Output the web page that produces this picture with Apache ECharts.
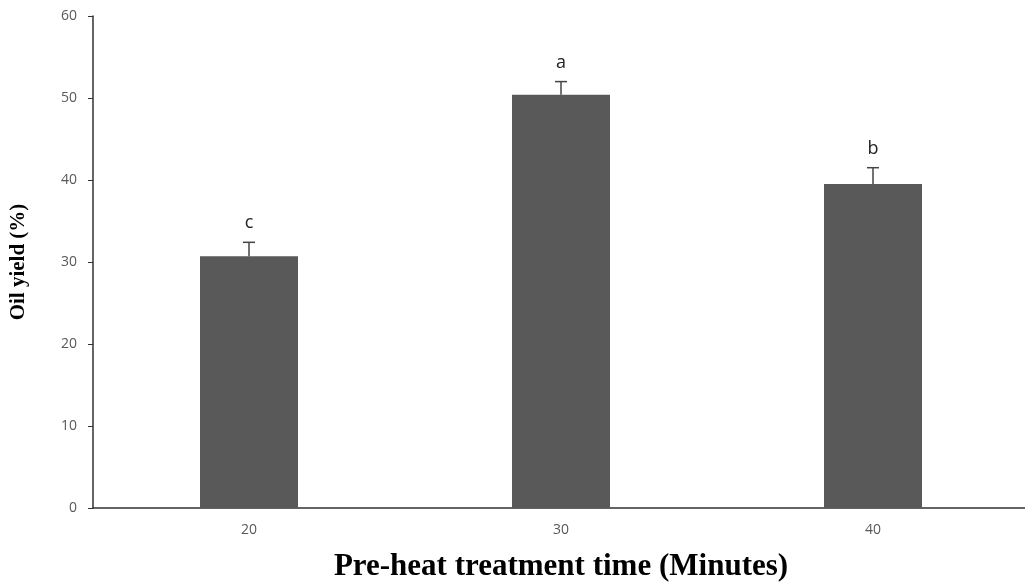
<!DOCTYPE html>
<html>
<head>
<meta charset="utf-8">
<script src="https://cdn.jsdelivr.net/npm/echarts@6/dist/echarts.min.js"></script>
<style>
  html, body { margin: 0; padding: 0; background: #fff; }
  #chart { width: 1025px; height: 588px; }
</style>
</head>
<body>
<div id="chart"></div>
<script>
const categories = ["20", "30", "40"]
const oilYield = [30.7, 50.4, 39.5]
const errorTop = [32.4, 52.0, 41.5]
const letters = ["c", "a", "b"]
const yTicks = [0, 10, 20, 30, 40, 50, 60]

const chart = echarts.init(document.getElementById("chart"))

// error bar + significance letter drawn on top of each bar
const errorData = categories.map((c, i) => [i, oilYield[i], errorTop[i], letters[i]])

chart.setOption({
  animation: false,
  grid: { left: 93, right: -4, top: 16, bottom: 80, outerBoundsMode: "none", containLabel: false },
  xAxis: {
    type: "category",
    data: categories,
    name: "Pre-heat treatment time (Minutes)",
    nameLocation: "middle",
    nameGap: 43,
    nameTextStyle: {
      fontFamily: "Liberation Serif",
      fontWeight: "bold",
      fontSize: 31,
      color: "#000"
    },
    axisLine: { lineStyle: { color: "#333", width: 1.5 } },
    axisTick: { alignWithLabel: true, length: 5, lineStyle: { color: "#333" } },
    axisLabel: { fontFamily: "Open Sans", fontSize: 14, color: "#595959", margin: 15 }
  },
  yAxis: {
    type: "value",
    min: yTicks[0],
    max: yTicks[yTicks.length - 1],
    interval: 10,
    name: "Oil yield (%)",
    nameLocation: "middle",
    nameGap: 64,
    nameTextStyle: {
      fontFamily: "Liberation Serif",
      fontWeight: "bold",
      fontSize: 21,
      color: "#000"
    },
    axisLine: { show: true, lineStyle: { color: "#333", width: 1.5 } },
    axisTick: { show: true, length: 5, lineStyle: { color: "#333" } },
    axisLabel: { fontFamily: "Open Sans", fontSize: 14, color: "#595959", margin: 16 },
    splitLine: { show: false }
  },
  series: [
    {
      type: "bar",
      data: oilYield,
      barWidth: 98,
      itemStyle: { color: "#595959" }
    },
    {
      type: "custom",
      data: errorData,
      z: 10,
      renderItem: (params, api) => {
        const x = api.value(0)
        const base = api.coord([x, api.value(1)])
        const top = api.coord([x, api.value(2)])
        const half = 6
        return {
          type: "group",
          children: [
            {
              type: "line",
              shape: { x1: base[0], y1: base[1], x2: top[0], y2: top[1] },
              style: { stroke: "#444", lineWidth: 1.5 }
            },
            {
              type: "line",
              shape: { x1: top[0] - half, y1: top[1], x2: top[0] + half, y2: top[1] },
              style: { stroke: "#444", lineWidth: 1.5 }
            },
            {
              type: "text",
              x: top[0],
              y: top[1] - 10,
              style: {
                text: letters[params.dataIndex],
                fontFamily: "Open Sans",
                fontSize: 18,
                fill: "#222",
                align: "center",
                verticalAlign: "bottom"
              }
            }
          ]
        }
      }
    }
  ]
})
</script>
</body>
</html>
